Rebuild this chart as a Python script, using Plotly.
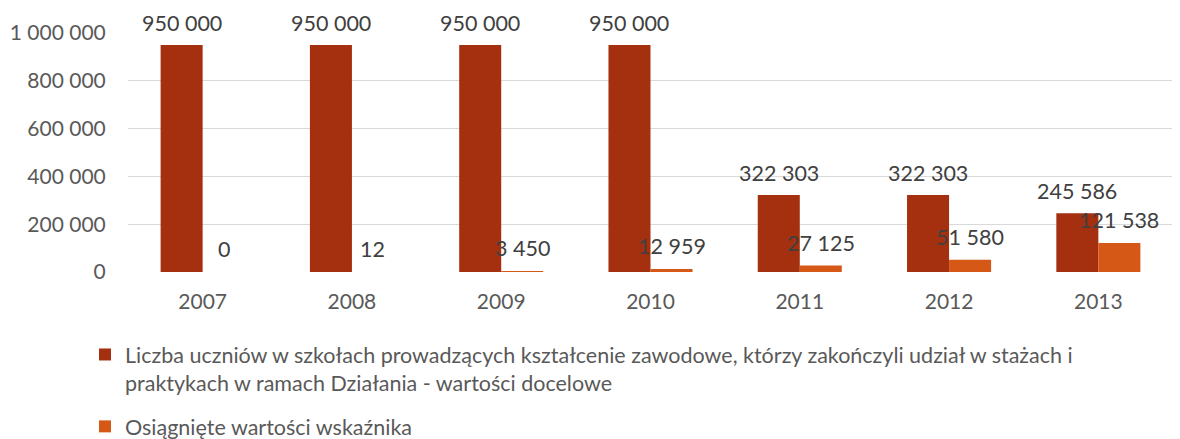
import plotly.graph_objects as go

years = ["2007", "2008", "2009", "2010", "2011", "2012", "2013"]
target = [950000, 950000, 950000, 950000, 322303, 322303, 245586]
achieved = [0, 12, 3450, 12959, 27125, 51580, 121538]

name1 = ("Liczba uczniów w szkołach prowadzących kształcenie zawodowe, którzy zakończyli udział w stażach i"
         "<br>praktykach w ramach Działania - wartości docelowe")
name2 = "Osiągnięte wartości wskaźnika"

c1 = "#A5300F"
c2 = "#D55816"
txt = "#595959"
FONT = "Lato"

def fmt(v):
    return f"{v:,}".replace(",", " ")

fig = go.Figure()
fig.add_bar(x=years, y=target, name=name1, marker=dict(color=c1, line=dict(width=0)), legendgroup="a")
fig.add_bar(x=years, y=achieved, name=name2, marker=dict(color=c2, line=dict(width=0)), legendgroup="b")

W, PL, PR = 1180, 120, 15
slot = (W - PL - PR) / len(years)
bargap = 0.437
bw = slot * (1 - bargap) / 2

ann = []
for i, y in enumerate(years):
    ann.append(dict(x=i, y=target[i], text=fmt(target[i]), showarrow=False, xshift=-bw / 2,
                    yshift=22, yanchor="middle", font=dict(family=FONT, size=21.5, color="#404040")))
    ann.append(dict(x=i, y=achieved[i], text=fmt(achieved[i]), showarrow=False, xshift=bw / 2,
                    yshift=23, yanchor="middle", font=dict(family=FONT, size=21.5, color="#404040")))

fig.update_layout(
    width=1180, height=439,
    margin=dict(l=PL, r=PR, t=25, b=175, autoexpand=False),
    barmode="group", bargap=bargap, bargroupgap=0,
    plot_bgcolor="white", paper_bgcolor="white",
    separators=", ",
    font=dict(family=FONT, size=21, color=txt),
    annotations=ann,
    xaxis=dict(type="category", range=[-0.5, len(years) - 0.5], showgrid=False, showline=False,
               ticks="outside", ticklen=11, tickcolor="rgba(0,0,0,0)", tickfont=dict(size=21, color=txt)),
    yaxis=dict(range=[0, 1000000], dtick=200000, tickformat=",d", showgrid=True, gridcolor="#D9D9D9",
               gridwidth=1, zeroline=False, showline=False, ticks="outside", ticklen=17,
               tickcolor="rgba(0,0,0,0)", tickfont=dict(size=21, color=txt)),
    legend=dict(orientation="v", xref="container", yref="container", x=77 / 1180, y=1 - 326 / 439,
                xanchor="left", yanchor="top", valign="top", tracegroupgap=13,
                font=dict(family=FONT, size=21.5, color=txt), itemwidth=30),
)

fig.write_html("out.html")
